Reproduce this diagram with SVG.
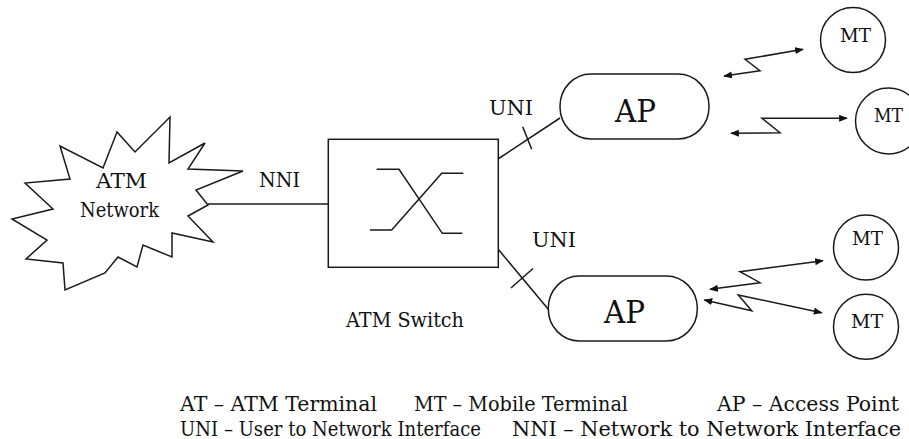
<svg xmlns="http://www.w3.org/2000/svg" width="909" height="439" viewBox="0 0 909 439">
  <defs>
    <marker id="tip" viewBox="0 0 10 8" refX="9" refY="4" markerWidth="9" markerHeight="7" markerUnits="userSpaceOnUse" orient="auto-start-reverse">
      <path d="M0,0 L10,4 L0,8 Z" fill="#111"/>
    </marker>
    <style>
      .ln { fill: none; stroke: #1a1a1a; stroke-width: 1.5; stroke-linejoin: miter; }
      .sh { fill: #fff; stroke: #1a1a1a; stroke-width: 1.5; }
      text { fill: #111; font-family: "DejaVu Serif", "Liberation Serif", serif; }
      .lbl { font-size: 20px; }
      .ap { font-size: 31px; }
      .mt { font-size: 18px; }
      .lg { font-size: 20px; }
      .radio { fill: none; stroke: #1a1a1a; stroke-width: 1.5; marker-start: url(#tip); marker-end: url(#tip); }
    </style>
  </defs>

  <rect width="909" height="439" fill="#fff"/>

  <!-- connectors -->
  <g id="connectors">
    <!-- NNI link: network cloud to switch -->
    <line class="ln" x1="208" y1="204" x2="328" y2="204"/>
    <!-- UNI links: switch to access points, with tick marks -->
    <line class="ln" x1="498" y1="159" x2="560" y2="118"/>
    <line class="ln" x1="522.7" y1="126.7" x2="531.7" y2="149.3"/>
    <line class="ln" x1="498" y1="249" x2="548.5" y2="309.5"/>
    <line class="ln" x1="511" y1="288" x2="533" y2="268.5"/>
    <!-- radio links: access point to mobile terminals -->
    <polyline class="radio" points="724,76 760,70.7 745,59.3 803,49.3"/>
    <polyline class="radio" points="731,133.3 780,132.7 762,118.3 847,118.3"/>
    <polyline class="radio" points="710,289.3 760,282.7 740,271.7 823,260.7"/>
    <polyline class="radio" points="704.3,300 751.7,310.7 738.3,295 821.7,312.7"/>
  </g>

  <!-- ATM network cloud -->
  <g id="atm-network">
    <polygon class="sh" points="117,132 103,168 60,146 70,179 25,183 53,209 12,219 47,240 26,259 63,263 65,290 105,273 118,257 137,267 143,245 172,257 172,233 213,242 188,216 208,205 196,190 243,171 188,169 205,143 169,163 170,117 135,152"/>
    <text class="lbl" x="96" y="188" textLength="51" lengthAdjust="spacingAndGlyphs">ATM</text>
    <text class="lbl" x="80" y="217" textLength="79" lengthAdjust="spacingAndGlyphs">Network</text>
  </g>

  <!-- ATM switch -->
  <g id="atm-switch">
    <rect class="sh" x="328.3" y="139.3" width="170" height="128"/>
    <polyline class="ln" points="376.7,169.3 399,169.3 442.3,233.3 462.3,233.3"/>
    <polyline class="ln" points="370,230 391.7,230 441.7,173.3 463.3,173.3"/>
    <text class="lbl" x="346" y="327" textLength="118" lengthAdjust="spacingAndGlyphs">ATM Switch</text>
  </g>

  <!-- link labels -->
  <g id="labels">
    <text class="lbl" x="259" y="187" textLength="41" lengthAdjust="spacingAndGlyphs">NNI</text>
    <text class="lbl" x="489" y="115" textLength="44" lengthAdjust="spacingAndGlyphs">UNI</text>
    <text class="lbl" x="532" y="247" textLength="44" lengthAdjust="spacingAndGlyphs">UNI</text>
  </g>

  <!-- access points -->
  <g id="ap-top">
    <rect class="sh" x="560" y="74" width="149" height="65" rx="31" ry="32"/>
    <text class="ap" x="615" y="122" textLength="41" lengthAdjust="spacingAndGlyphs">AP</text>
  </g>
  <g id="ap-bottom">
    <rect class="sh" x="548.3" y="276" width="149" height="65" rx="31" ry="32"/>
    <text class="ap" x="604" y="323" textLength="41" lengthAdjust="spacingAndGlyphs">AP</text>
  </g>

  <!-- mobile terminals -->
  <g id="mt-1">
    <circle class="sh" cx="853" cy="40" r="32.5"/>
    <text class="mt" x="840" y="42" textLength="31" lengthAdjust="spacingAndGlyphs">MT</text>
  </g>
  <g id="mt-2">
    <circle class="sh" cx="888.5" cy="121" r="33"/>
    <text class="mt" x="874" y="122" textLength="29" lengthAdjust="spacingAndGlyphs">MT</text>
  </g>
  <g id="mt-3">
    <circle class="sh" cx="866" cy="247.5" r="32.5"/>
    <text class="mt" x="852" y="245" textLength="31" lengthAdjust="spacingAndGlyphs">MT</text>
  </g>
  <g id="mt-4">
    <circle class="sh" cx="866" cy="326.7" r="32.5"/>
    <text class="mt" x="851" y="328" textLength="32" lengthAdjust="spacingAndGlyphs">MT</text>
  </g>

  <!-- legend -->
  <g id="legend">
    <text class="lg" x="180" y="411" textLength="197" lengthAdjust="spacingAndGlyphs">AT – ATM  Terminal</text>
    <text class="lg" x="414" y="411" textLength="214" lengthAdjust="spacingAndGlyphs">MT – Mobile Terminal</text>
    <text class="lg" x="717" y="411" textLength="182" lengthAdjust="spacingAndGlyphs">AP – Access Point</text>
    <text class="lg" x="180" y="435.5" textLength="301" lengthAdjust="spacingAndGlyphs">UNI – User to Network Interface</text>
    <text class="lg" x="512" y="435.5" textLength="389" lengthAdjust="spacingAndGlyphs">NNI – Network to Network Interface</text>
  </g>
</svg>
